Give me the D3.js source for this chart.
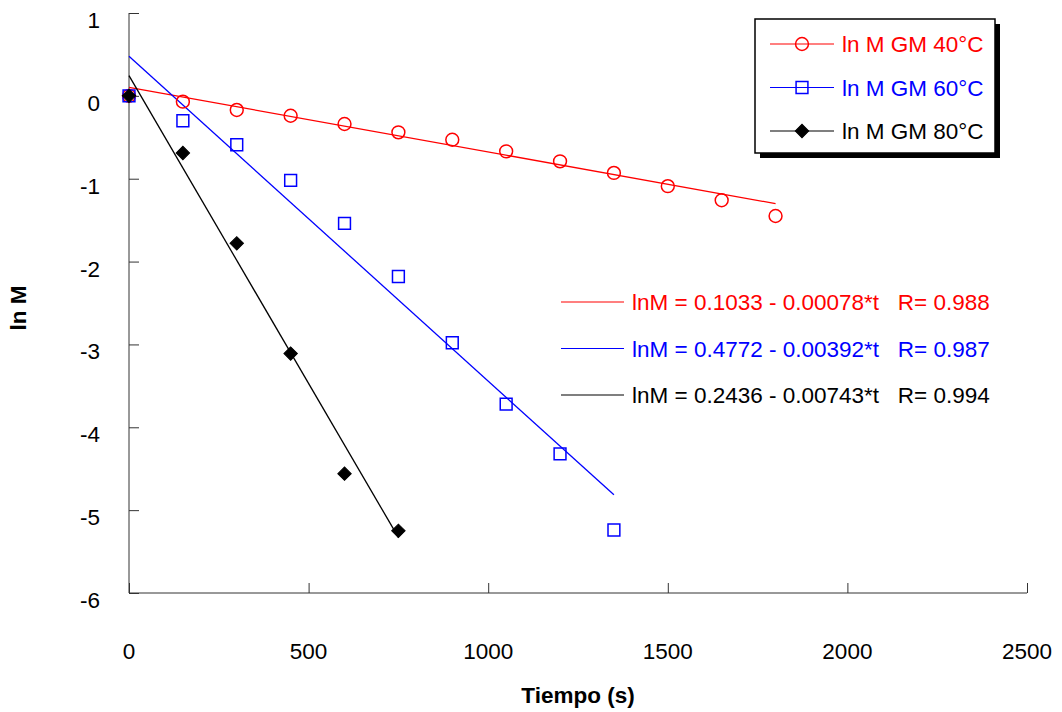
<!DOCTYPE html>
<html>
<head>
<meta charset="utf-8">
<script src="https://cdn.jsdelivr.net/npm/d3@7"></script>
<style>
  body { margin: 0; background: #fff; }
  svg { display: block; font-family: "Liberation Sans", Arial, sans-serif; }
</style>
</head>
<body>
<svg id="chart" width="1062" height="712"></svg>
<script>
// data
const times40 = [0, 150, 300, 450, 600, 750, 900, 1050, 1200, 1350, 1500, 1650, 1800];
const lnM40 = [0, -0.07, -0.17, -0.24, -0.34, -0.44, -0.53, -0.67, -0.79, -0.93, -1.09, -1.26, -1.45];
const times60 = [0, 150, 300, 450, 600, 750, 900, 1050, 1200, 1350];
const lnM60 = [0, -0.30, -0.59, -1.02, -1.54, -2.18, -2.98, -3.72, -4.32, -5.24];
const times80 = [0, 150, 300, 450, 600, 750];
const lnM80 = [0, -0.69, -1.78, -3.11, -4.56, -5.25];

const seriesNames = ["ln M GM 40\u00b0C", "ln M GM 60\u00b0C", "ln M GM 80\u00b0C"];
const fitIntercepts = [0.1033, 0.4772, 0.2436];
const fitSlopes = [0.00078, 0.00392, 0.00743];
const fitR = ["0.988", "0.987", "0.994"];
const fitEnds = [1800, 1350, 750];
const colors = ["#ff0000", "#0000ff", "#000000"];

const xTicks = [0, 500, 1000, 1500, 2000, 2500];
const yTicks = [1, 0, -1, -2, -3, -4, -5, -6];

const margin = { top: 13, right: 35, bottom: 119, left: 129 };
const width = 1062 - margin.left - margin.right;
const height = 712 - margin.top - margin.bottom;
const fs = 22.5;

const svg = d3.select("#chart");
const g = svg.append("g").attr("transform", `translate(${margin.left},${margin.top})`);

const x = d3.scaleLinear().domain([0, 2500]).range([0, width]);
const y = d3.scaleLinear().domain([-6, 1]).range([height, 0]);

// axes, ticks pointing inward
const xAxis = g.append("g")
  .attr("transform", `translate(0,${height})`)
  .call(d3.axisTop(x).tickValues(xTicks).tickSize(10).tickFormat(""));
xAxis.selectAll("line, path").attr("stroke", "#333");
xAxis.select(".domain").attr("d", `M0,0H${width}`);

const yAxis = g.append("g")
  .call(d3.axisRight(y).tickValues(yTicks).tickSize(10).tickFormat(""));
yAxis.selectAll("line, path").attr("stroke", "#333");
yAxis.select(".domain").attr("d", `M0,0V${height}`);

// tick labels
g.selectAll(".xlab").data(xTicks).enter().append("text")
  .attr("x", d => x(d)).attr("y", height + 66)
  .attr("text-anchor", "middle").attr("font-size", fs).text(d => d);

g.selectAll(".ylab").data(yTicks).enter().append("text")
  .attr("x", -29).attr("y", d => y(d) + 15)
  .attr("text-anchor", "end").attr("font-size", fs).text(d => d);

// axis titles
svg.append("text")
  .attr("x", margin.left + x(1250)).attr("y", 703)
  .attr("text-anchor", "middle").attr("font-size", fs).attr("font-weight", "bold")
  .text("Tiempo (s)");
svg.append("text")
  .attr("transform", "translate(26,308) rotate(-90)")
  .attr("text-anchor", "middle").attr("font-size", fs).attr("font-weight", "bold")
  .text("ln M");

// fit lines
const fitLine = d3.line().x(d => x(d[0])).y(d => y(d[1]));
fitIntercepts.forEach((a, i) => {
  const pts = [0, fitEnds[i]].map(t => [t, a - fitSlopes[i] * t]);
  g.append("path").attr("d", fitLine(pts))
    .attr("fill", "none").attr("stroke", colors[i]).attr("stroke-width", 1.3);
});

// markers: open circle, open square, filled diamond (rotated square)
const symType = [d3.symbolCircle, d3.symbolSquare, d3.symbolSquare];
const symSize = [130, 140, 90];
const symRot = [0, 0, 45];
const seriesData = [
  d3.zip(times40, lnM40),
  d3.zip(times60, lnM60),
  d3.zip(times80, lnM80)
];

function drawMarker(sel, i, pos) {
  sel.attr("d", d3.symbol().type(symType[i]).size(symSize[i])())
    .attr("transform", d => { const p = pos(d); return `translate(${p[0]},${p[1]}) rotate(${symRot[i]})`; })
    .attr("fill", i === 2 ? "#000" : "none")
    .attr("stroke", colors[i])
    .attr("stroke-width", i === 2 ? 1 : 1.5);
}

seriesData.forEach((pts, i) => {
  g.selectAll(`.m${i}`).data(pts).enter().append("path")
    .call(drawMarker, i, d => [x(d[0]), y(d[1])]);
});

// legend box with shadow
const lg = svg.append("g");
lg.append("rect").attr("x", 760).attr("y", 24).attr("width", 240).attr("height", 134).attr("fill", "#000");
lg.append("rect").attr("x", 755).attr("y", 19).attr("width", 240).attr("height", 134)
  .attr("fill", "#fff").attr("stroke", "#000").attr("stroke-width", 1.5);

seriesNames.forEach((name, i) => {
  const cy = 44 + i * 43.5;
  lg.append("line").attr("x1", 770).attr("x2", 834).attr("y1", cy).attr("y2", cy)
    .attr("stroke", colors[i]).attr("stroke-width", 1.2);
  lg.append("path").datum([802, cy]).call(drawMarker, i, d => d);
  lg.append("text").attr("x", 842).attr("y", cy + 8).attr("font-size", fs)
    .attr("fill", colors[i]).text(name);
});

// regression equations
fitIntercepts.forEach((a, i) => {
  const cy = 302 + i * 46.5;
  svg.append("line").attr("x1", 561).attr("x2", 624).attr("y1", cy).attr("y2", cy)
    .attr("stroke", colors[i]).attr("stroke-width", 1.2);
  svg.append("text").attr("x", 632).attr("y", cy + 8).attr("font-size", fs)
    .attr("fill", colors[i]).attr("xml:space", "preserve")
    .text(`lnM = ${a.toFixed(4)} - ${fitSlopes[i].toFixed(5)}*t   R= ${fitR[i]}`);
});
</script>
</body>
</html>
